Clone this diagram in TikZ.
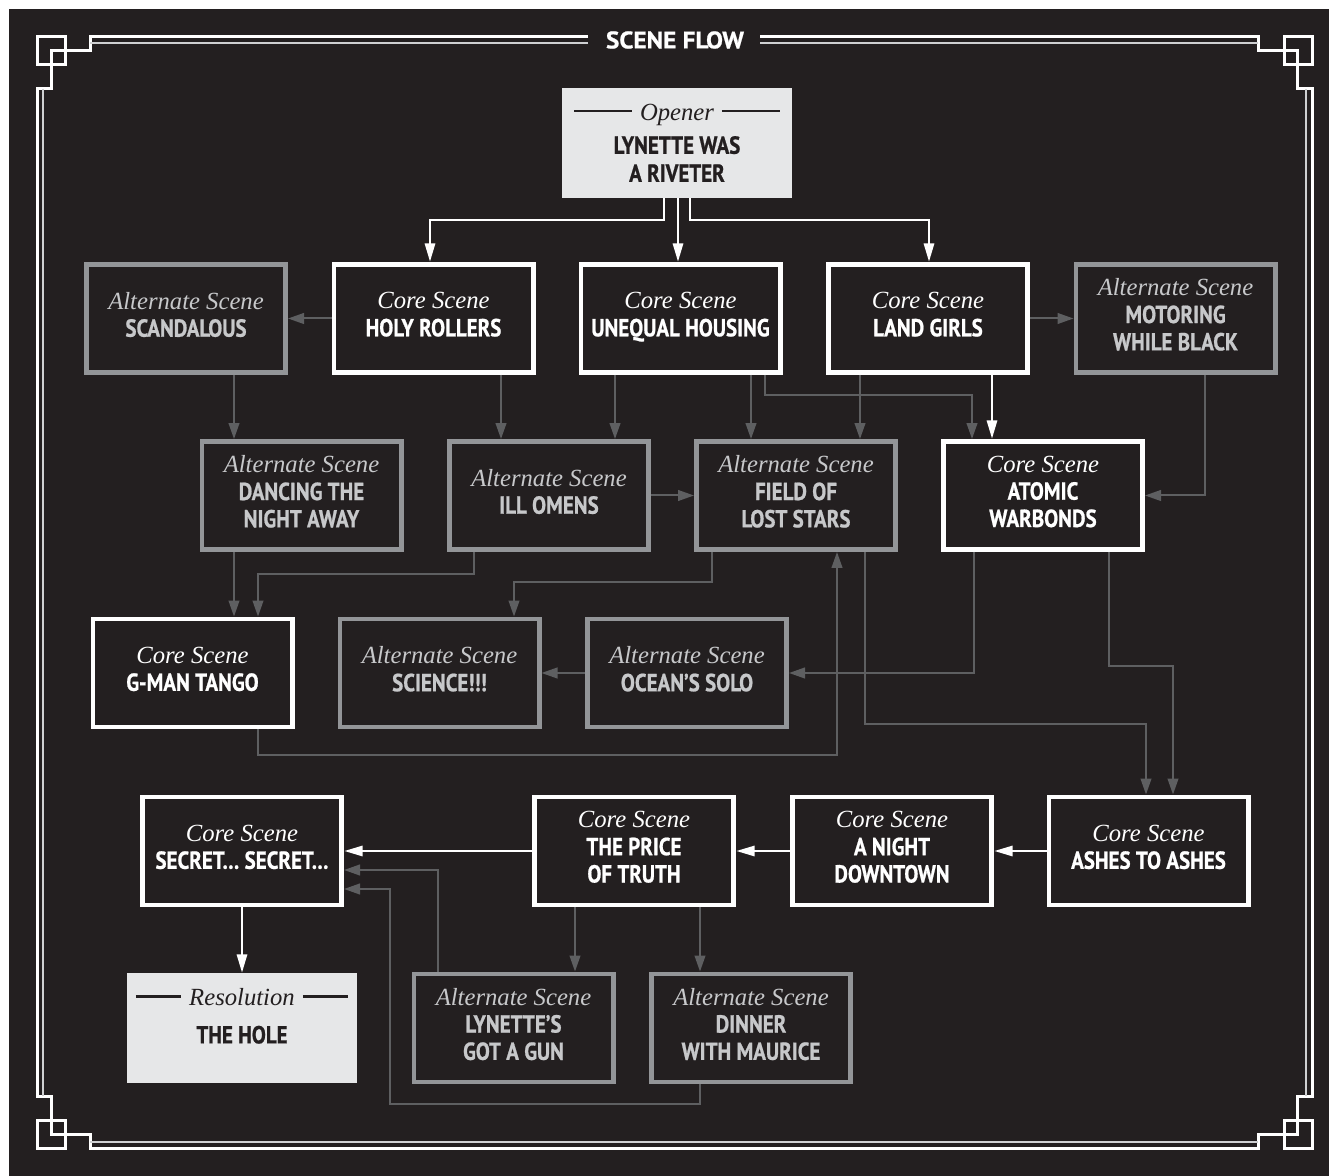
\documentclass[tikz,border=0pt]{standalone}
\usepackage{fontspec}
\usetikzlibrary{arrows.meta}
\newfontfamily\capfont{PT Sans}[FakeStretch=0.85,FakeBold=0.8]
\newfontfamily\headfont{PT Sans}[FakeStretch=1.05,FakeBold=0.8]
\newfontfamily\slantfont{Liberation Serif}
\definecolor{inkdark}{HTML}{231F20}
\definecolor{framegray}{HTML}{CFD0D2}
\definecolor{altgray}{HTML}{939598}
\definecolor{alttext}{HTML}{C7C8CA}
\definecolor{linkgray}{HTML}{5E5F61}
\definecolor{paper}{HTML}{E6E7E8}
\newcommand{\scene}[2]{{\slantfont\itshape\mdseries\fontsize{18.5}{20.5}\selectfont #1}\\#2}
\newcommand{\flank}[2]{{\slantfont\itshape\mdseries\fontsize{18.5}{20.5}\selectfont\rule[0.33em]{#1}{1.6pt}\hspace{6pt}#2\hspace{6pt}\rule[0.33em]{#1}{1.6pt}}}

\begin{document}
\begin{tikzpicture}[x=0.75pt,y=-0.75pt,
  corebox/.style={draw=white,line width=3.5pt,fill=inkdark,text=white,minimum width=149.5pt,minimum height=81.2pt,inner sep=0pt,text depth=6pt,align=center,font={\capfont\bfseries\fontsize{18.5}{20.5}\selectfont}},
  altbox/.style={corebox,draw=altgray,text=alttext},
  endbox/.style={fill=paper,text=inkdark,minimum width=172.5pt,minimum height=82.5pt,inner sep=0pt,outer sep=0pt,align=center,font={\capfont\bfseries\fontsize{18.5}{21}\selectfont}},
  corelink/.style={draw=white,line width=2.2pt,-{Triangle[length=14pt,width=7.5pt]}},
  altlink/.style={draw=linkgray,line width=1.5pt,-{Triangle[length=12pt,width=8pt]}}]
\useasboundingbox (0,0) rectangle (1329,1176);
\fill[white] (0,0) rectangle (1329,1176);
\fill[inkdark] (9,9) rectangle (1329,1176);
% frame
\draw[white,line width=2.25pt] (588,37) -- (90,37) -- (90,51) -- (51,51) -- (51,89) -- (37,89) -- (37,1096) -- (51,1096) -- (51,1134) -- (90,1134) -- (90,1148) -- (1258,1148) -- (1258,1134) -- (1297,1134) -- (1297,1096) -- (1312,1096) -- (1312,89) -- (1297,89) -- (1297,51) -- (1258,51) -- (1258,37) -- (760,37);
\draw[framegray,line width=1.5pt] (588,43) -- (90,43) (43,89) -- (43,1096) (90,1142) -- (1258,1142) (1306,1096) -- (1306,89) (1258,43) -- (760,43);
% corner squares
\draw[white,line width=2.25pt] (37,37) rectangle (65,65) (1284,37) rectangle (1312,65) (37,1120) rectangle (65,1148) (1284,1120) rectangle (1312,1148);
\node[text=white,inner sep=0pt,font={\headfont\bfseries\fontsize{18}{20}\selectfont}] (title) at (675,40) {SCENE FLOW};

% opener
\node[endbox] (opener) at (677,143) {\flank{43.5pt}{Opener}\\[4pt]LYNETTE WAS\\A RIVETER};
% row one
\node[altbox] (scandalous) at (186,318.5) {\scene{Alternate Scene}{SCANDALOUS}};
\node[corebox] (holy) at (433.5,318.5) {\scene{Core Scene}{HOLY ROLLERS}};
\node[corebox] (unequal) at (680.5,318.5) {\scene{Core Scene}{UNEQUAL HOUSING}};
\node[corebox] (landgirls) at (928,318.5) {\scene{Core Scene}{LAND GIRLS}};
\node[altbox] (motoring) at (1175.5,318.5) {\scene{Alternate Scene}{MOTORING\\WHILE BLACK}};
% row two
\node[altbox] (dancing) at (301.5,495.5) {\scene{Alternate Scene}{DANCING THE\\NIGHT AWAY}};
\node[altbox] (omens) at (549,495.5) {\scene{Alternate Scene}{ILL OMENS}};
\node[altbox] (fieldstars) at (796,495.5) {\scene{Alternate Scene}{FIELD OF\\LOST STARS}};
\node[corebox] (atomic) at (1043,495.5) {\scene{Core Scene}{ATOMIC\\WARBONDS}};
% row three
\node[corebox] (gman) at (192.5,673) {\scene{Core Scene}{G-MAN TANGO}};
\node[altbox] (science) at (439.5,673) {\scene{Alternate Scene}{SCIENCE!!!}};
\node[altbox] (ocean) at (687,673) {\scene{Alternate Scene}{OCEAN’S SOLO}};
% row four
\node[corebox] (secret) at (242,851) {\scene{Core Scene}{SECRET… SECRET…}};
\node[corebox] (price) at (634,851) {\scene{Core Scene}{THE PRICE\\OF TRUTH}};
\node[corebox] (downtown) at (892,851) {\scene{Core Scene}{A NIGHT\\DOWNTOWN}};
\node[corebox] (ashes) at (1148.5,851) {\scene{Core Scene}{ASHES TO ASHES}};
% row five
\node[endbox,text depth=18pt] (resolution) at (242,1028) {\flank{34pt}{Resolution}\\[7.25pt]THE HOLE};
\node[altbox] (lynette) at (513.5,1028) {\scene{Alternate Scene}{LYNETTE’S\\GOT A GUN}};
\node[altbox] (dinner) at (751,1028) {\scene{Alternate Scene}{DINNER\\WITH MAURICE}};

% core flow
\draw[corelink] (opener.south -| 664,0) |- (430,220) -- (holy.north -| 430,0);
\draw[corelink] (opener.south -| 678,0) -- (unequal.north -| 678,0);
\draw[corelink] (opener.south -| 690,0) |- (929,220) -- (landgirls.north -| 929,0);
\draw[corelink] (landgirls.south -| 992,0) -- (atomic.north -| 992,0);
\draw[corelink] (ashes.west) -- (downtown.east);
\draw[corelink] (downtown.west) -- (price.east);
\draw[corelink] (price.west) -- (secret.east);
\draw[corelink] (secret.south) -- (resolution.north);

% alternate links
\draw[altlink] (holy.west) -- (scandalous.east);
\draw[altlink] (landgirls.east) -- (motoring.west);
\draw[altlink] (scandalous.south -| 234,0) -- (dancing.north -| 234,0);
\draw[altlink] (holy.south -| 501,0) -- (omens.north -| 501,0);
\draw[altlink] (unequal.south -| 615,0) -- (omens.north -| 615,0);
\draw[altlink] (unequal.south -| 751,0) -- (fieldstars.north -| 751,0);
\draw[altlink] (unequal.south -| 765,0) |- (972,395) -- (atomic.north -| 972,0);
\draw[altlink] (landgirls.south -| 860,0) -- (fieldstars.north -| 860,0);
\draw[altlink] (motoring.south -| 1205,0) |- (atomic.east);
\draw[altlink] (omens.east) -- (fieldstars.west);
\draw[altlink] (dancing.south -| 234,0) -- (gman.north -| 234,0);
\draw[altlink] (omens.south -| 474,0) |- (258,574) -- (gman.north -| 258,0);
\draw[altlink] (fieldstars.south -| 712,0) |- (514,582) -- (science.north -| 514,0);
\draw[altlink] (gman.south -| 258,0) |- (837,755) -- (fieldstars.south -| 837,0);
\draw[altlink] (ocean.west) -- (science.east);
\draw[altlink] (atomic.south -| 974,0) |- (ocean.east);
\draw[altlink] (fieldstars.south -| 865,0) |- (1146,724) -- (ashes.north -| 1146,0);
\draw[altlink] (atomic.south -| 1109,0) |- (1173,666) -- (ashes.north -| 1173,0);
\draw[altlink] (price.south -| 575,0) -- (lynette.north -| 575,0);
\draw[altlink] (price.south -| 700,0) -- (dinner.north -| 700,0);
\draw[altlink] (lynette.north -| 438,0) |- (secret.east |- 0,870);
\draw[altlink] (dinner.south -| 700,0) |- (390,1104) |- (secret.east |- 0,889);
\end{tikzpicture}
\end{document}
